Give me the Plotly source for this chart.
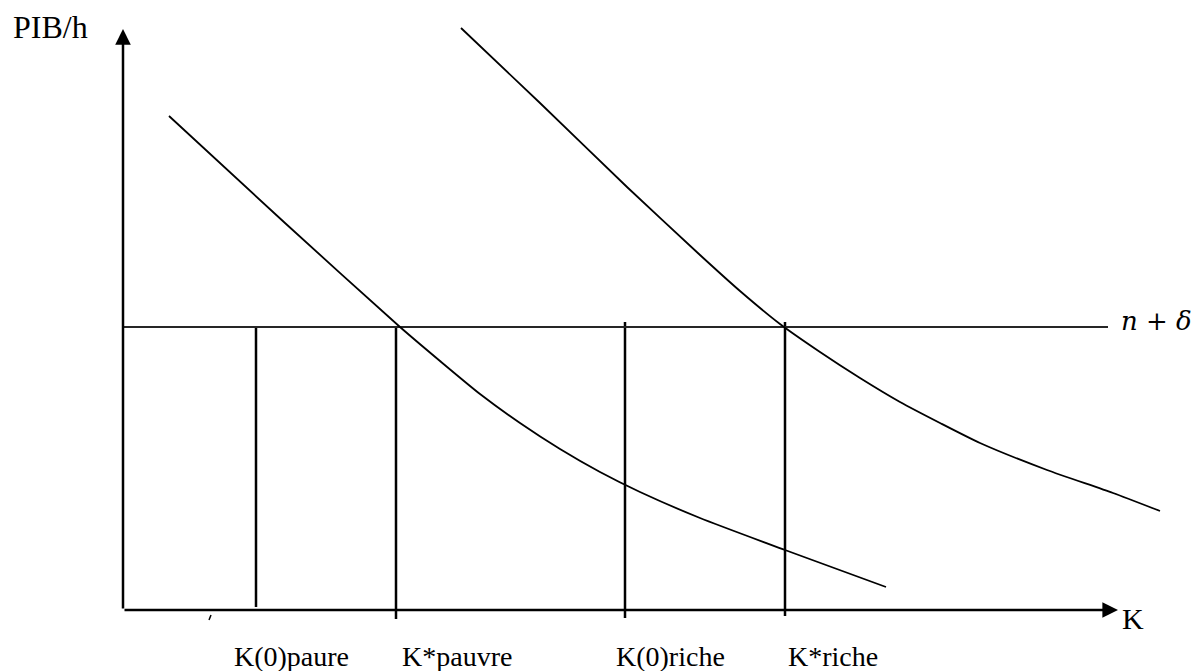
import plotly.graph_objects as go

# Solow diagram: two countries (pauvre / riche), depreciation line n + delta
k_pauvre = [0.46, 1.62, 2.77, 3.17, 3.57, 3.97, 4.37, 4.77, 5.17, 5.77, 6.62, 7.63]
y_pauvre = [4.94, 3.87, 2.83, 2.49, 2.16, 1.87, 1.61, 1.38, 1.18, 0.92, 0.60, 0.23]

k_riche = [3.38, 4.17, 5.04, 5.77, 6.17, 6.57, 6.97, 7.37, 7.77, 8.17, 8.57, 9.24, 9.90, 10.37]
y_riche = [5.82, 5.07, 4.23, 3.55, 3.19, 2.86, 2.58, 2.32, 2.08, 1.87, 1.67, 1.40, 1.17, 0.99]

n_delta = 2.83
n_delta_end = 9.85

k_marks = [1.33, 2.73, 5.02, 6.62]
k_tops = [2.83, 2.83, 2.88, 2.88]
k_bottoms = [0.03, -0.09, -0.08, -0.06]
k_labels = ["K(0)paure", "K*pauvre", "K(0)riche", "K*riche"]
k_label_x = [1.68, 3.34, 5.47, 7.10]
k_label_y = -0.465

x_axis_end = 9.95
y_axis_end = 5.81

serif = "Liberation Serif"

fig = go.Figure()

# verticals at the K values
for k, top, bot in zip(k_marks, k_tops, k_bottoms):
    fig.add_trace(go.Scatter(x=[k, k], y=[top, bot], mode="lines",
                             line=dict(color="black", width=2.5), hoverinfo="skip"))

# n + delta line
fig.add_trace(go.Scatter(x=[0, n_delta_end], y=[n_delta, n_delta], mode="lines",
                         line=dict(color="#262626", width=2), hoverinfo="skip"))

# the two curves
fig.add_trace(go.Scatter(x=k_pauvre, y=y_pauvre, mode="lines",
                         line=dict(color="black", width=1.8, shape="spline", smoothing=0.6),
                         hoverinfo="skip"))
fig.add_trace(go.Scatter(x=k_riche, y=y_riche, mode="lines",
                         line=dict(color="black", width=1.8, shape="spline", smoothing=0.6),
                         hoverinfo="skip"))

# small stray mark under the axis
fig.add_trace(go.Scatter(x=[0.86, 0.88], y=[-0.10, -0.05], mode="lines",
                         line=dict(color="black", width=1.5), hoverinfo="skip"))

# axes with arrows
axis_arrow = dict(showarrow=True, arrowhead=2, arrowsize=1.25, arrowwidth=2.5,
                  arrowcolor="black", axref="x", ayref="y", text="", ax=0, ay=0)
fig.add_annotation(x=0, y=y_axis_end, **axis_arrow)
fig.add_annotation(x=x_axis_end, y=0, **axis_arrow)

# texts
for lab, lx in zip(k_labels, k_label_x):
    fig.add_annotation(x=lx, y=k_label_y, text=lab, showarrow=False,
                       font=dict(family=serif, size=28, color="black"))
fig.add_annotation(x=10.10, y=-0.085, text="K", showarrow=False,
                   font=dict(family=serif, size=30, color="black"))
fig.add_annotation(x=-1.12, y=5.83, text="PIB/h", showarrow=False, xanchor="left",
                   font=dict(family=serif, size=32, color="black"))
fig.add_annotation(x=10.33, y=2.89, text="<i>n</i> + <i>δ</i>", showarrow=False,
                   font=dict(family="DejaVu Serif", size=26, color="black"))

# page body has an 8px margin, ranges are shifted to compensate
fig.update_layout(
    width=1201, height=671,
    margin=dict(l=0, r=0, t=0, b=0),
    paper_bgcolor="white", plot_bgcolor="white",
    showlegend=False,
    xaxis=dict(range=[-1.15, 10.86], visible=False, fixedrange=True),
    yaxis=dict(range=[-0.69, 6.02], visible=False, fixedrange=True),
)

fig.write_html("out.html")
